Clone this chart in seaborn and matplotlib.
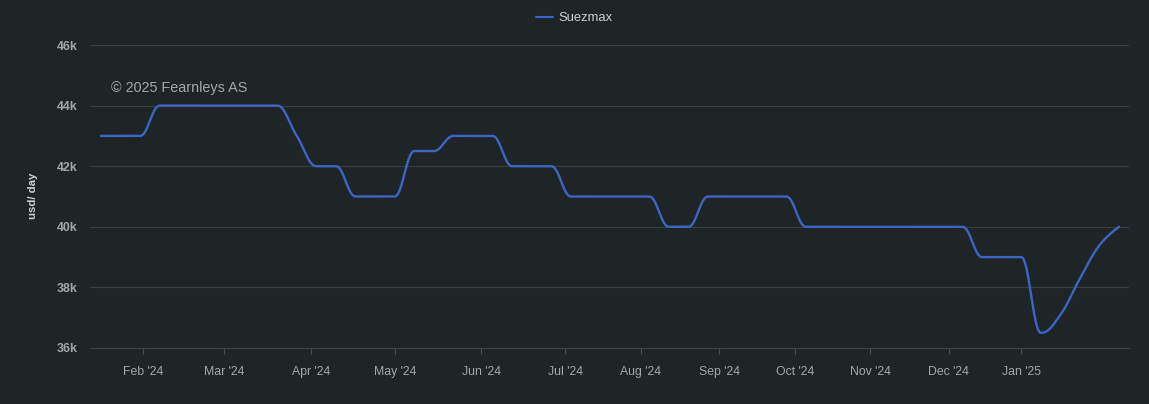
import numpy as np
import pandas as pd
import matplotlib
matplotlib.use("Agg")
import matplotlib.pyplot as plt
import seaborn as sns

# ---------------- data ----------------
series_name = "Suezmax"
# weekly observation dates (Wednesdays), a few weeks absent
all_weeks = pd.date_range("2024-01-17", "2025-02-05", freq="7D")
missing_weeks = pd.to_datetime(["2024-07-31", "2024-10-02", "2024-12-04"])
dates = all_weeks[~all_weeks.isin(missing_weeks)]

values = [43000, 43000, 43000,
          44000, 44000, 44000, 44000, 44000, 44000, 44000,
          43000,
          42000, 42000,
          41000, 41000, 41000,
          42500, 42500,
          43000, 43000, 43000,
          42000, 42000, 42000,
          41000, 41000, 41000, 41000, 41000,
          40000, 40000,
          41000, 41000, 41000, 41000, 41000,
          40000, 40000, 40000, 40000, 40000, 40000, 40000, 40000, 40000,
          39000, 39000, 39000,
          36500, 37100, 38300, 39400, 40000]

tick_months = pd.date_range("2024-02-01", "2025-01-01", freq="MS")
tick_labels = ["Feb '24", "Mar '24", "Apr '24", "May '24", "Jun '24", "Jul '24",
               "Aug '24", "Sep '24", "Oct '24", "Nov '24", "Dec '24", "Jan '25"]
y_ticks = [36000, 38000, 40000, 42000, 44000, 46000]
y_tick_labels = ["36k", "38k", "40k", "42k", "44k", "46k"]

# ---------------- style ----------------
BG = "#1f2427"
GRID = "#3b4044"
LINE = "#3b66c4"
TXT = "#a6a6a6"

sns.set_theme(style="dark", rc={
    "figure.facecolor": BG,
    "axes.facecolor": BG,
    "savefig.facecolor": BG,
})
plt.rcParams["font.family"] = ["Liberation Sans", "DejaVu Sans"]


def spline_path(xv, yv, smoothing=1.5, n=40):
    """Highcharts-like spline (bezier with clamped control points) for display."""
    xv = np.asarray(xv, float)
    yv = np.asarray(yv, float)
    m = len(xv)
    lcx, lcy = xv.copy(), yv.copy()
    rcx, rcy = xv.copy(), yv.copy()
    d = smoothing + 1
    for i in range(1, m - 1):
        px, py = xv[i], yv[i]
        lx, ly = xv[i - 1], yv[i - 1]
        nx, ny = xv[i + 1], yv[i + 1]
        lcx_, lcy_ = (smoothing * px + lx) / d, (smoothing * py + ly) / d
        rcx_, rcy_ = (smoothing * px + nx) / d, (smoothing * py + ny) / d
        corr = 0.0
        if rcx_ != lcx_:
            corr = (rcy_ - lcy_) * (rcx_ - px) / (rcx_ - lcx_) + py - rcy_
        lcy_ += corr
        rcy_ += corr
        if lcy_ > max(ly, py):
            lcy_ = max(ly, py); rcy_ = 2 * py - lcy_
        elif lcy_ < min(ly, py):
            lcy_ = min(ly, py); rcy_ = 2 * py - lcy_
        if rcy_ > max(ny, py):
            rcy_ = max(ny, py); lcy_ = 2 * py - rcy_
        elif rcy_ < min(ny, py):
            rcy_ = min(ny, py); lcy_ = 2 * py - rcy_
        lcx[i], lcy[i], rcx[i], rcy[i] = lcx_, lcy_, rcx_, rcy_
    t = np.linspace(0, 1, n)
    xs, ys = [], []
    for i in range(1, m):
        P0 = (xv[i - 1], yv[i - 1]); P1 = (rcx[i - 1], rcy[i - 1])
        P2 = (lcx[i], lcy[i]); P3 = (xv[i], yv[i])
        a = (1 - t) ** 3; b = 3 * (1 - t) ** 2 * t; c = 3 * (1 - t) * t ** 2; e = t ** 3
        xs.append(a * P0[0] + b * P1[0] + c * P2[0] + e * P3[0])
        ys.append(a * P0[1] + b * P1[1] + c * P2[1] + e * P3[1])
    return np.concatenate(xs), np.concatenate(ys)


# ordinal x axis: points equally spaced
idx = np.arange(len(values))
xs, ys = spline_path(idx, values)
df = pd.DataFrame({"x": xs, "y": ys, "series": series_name})

W, H = 1149, 404
fig = plt.figure(figsize=(W / 100, H / 100), dpi=100)
ax = fig.add_axes([90 / W, 1 - 348 / H, (1129 - 90) / W, (348 - 45) / H])

sns.lineplot(data=df, x="x", y="y", hue="series", palette=[LINE],
             linewidth=1.7, sort=False, ax=ax, estimator=None)

ax.set_xlim(-0.56, 52.5)
ax.set_ylim(36000, 46000)

# ticks
date_num = dates.values.astype("datetime64[D]").astype(float)
tick_num = tick_months.values.astype("datetime64[D]").astype(float)
tick_pos = np.interp(tick_num, date_num, idx)
ax.set_xticks(tick_pos)
ax.set_xticklabels(tick_labels)
ax.set_yticks(y_ticks)
ax.set_yticklabels(y_tick_labels)

ax.tick_params(axis="x", colors="#4a4f53", length=4, width=0.8, pad=9,
               labelcolor=TXT, labelsize=8.8, bottom=True)
ax.tick_params(axis="y", length=0, pad=9, labelcolor=TXT, labelsize=8.9)
for lab in ax.get_yticklabels():
    lab.set_fontweight("bold")

ax.grid(axis="y", color=GRID, linewidth=0.8)
ax.grid(axis="x", visible=False)
for s in ["top", "right", "left"]:
    ax.spines[s].set_visible(False)
ax.spines["bottom"].set_color("#3f4448")
ax.spines["bottom"].set_linewidth(0.8)
ax.set_xlabel("")
ax.set_ylabel("")

leg = ax.legend(loc="center", bbox_to_anchor=(0.5, 1 - 18 / H),
                bbox_transform=fig.transFigure, frameon=False,
                fontsize=9.4, handlelength=1.3, handletextpad=0.4)
for t in leg.get_texts():
    t.set_color("#d0d0d0")
for l in leg.get_lines():
    l.set_linewidth(1.5)

fig.text(111 / W, 1 - 88 / H, "\u00a9 2025 Fearnleys AS", color=TXT,
         fontsize=10.4, ha="left", va="center")
fig.text(33 / W, 1 - 196 / H, "usd/ day", color="#cfcfcf", rotation=90,
         fontsize=8.2, fontweight="bold", ha="center", va="center")

fig.savefig("out.png", dpi=100, facecolor=BG)
